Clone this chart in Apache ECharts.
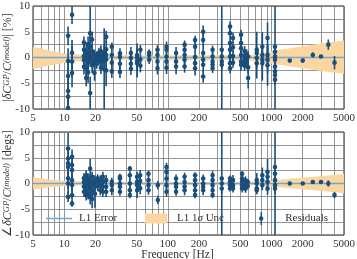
<!DOCTYPE html>
<html>
<head>
<meta charset="utf-8">
<script src="https://cdn.jsdelivr.net/npm/echarts@6/dist/echarts.min.js"></script>
<style>
  html, body { margin: 0; padding: 0; background: #fff; }
  #chart { width: 357px; height: 259px; }
</style>
</head>
<body>
<div id="chart"></div>
<script>
// axis ticks
const xTickValues = [5, 6, 7, 8, 9, 10, 20, 30, 40, 50, 60, 70, 80, 90, 100, 200, 300, 400, 500, 600, 700, 800, 900, 1000, 2000, 3000, 4000, 5000];
const xLabelValues = [5, 10, 20, 50, 100, 200, 500, 1000, 2000, 5000];

// L1 1-sigma band (frequency, lower, upper)
const bandFreq = [5, 7, 10, 15, 20, 30, 50, 100, 200, 500, 700, 1000, 2000, 3000, 5000];
const magBandUpper = [2.1, 1.4, 0.8, 0.6, 0.5, 0.45, 0.45, 0.45, 0.45, 0.5, 0.6, 1.2, 2.2, 2.7, 3.3];
const magBandLower = [-2.3, -1.6, -1.0, -0.7, -0.6, -0.5, -0.5, -0.5, -0.5, -0.55, -0.65, -1.2, -2.1, -2.6, -3.2];
const phaseBandUpper = [1.25, 0.8, 0.5, 0.4, 0.35, 0.3, 0.3, 0.3, 0.3, 0.3, 0.4, 0.6, 1.15, 1.4, 1.9];
const phaseBandLower = [-1.15, -0.8, -0.5, -0.4, -0.35, -0.3, -0.3, -0.3, -0.3, -0.3, -0.4, -0.6, -1.1, -1.4, -1.9];

// residuals: [frequency Hz, value, error]
const magResiduals = [
  [10.9, 4.2, 1.8], [10.9, -0.7, 2.5], [10.9, -3.6, 2.5], [10.9, -6.5, 2.5], [10.9, -7.6, 2], [10.9, -9.8, 1.5],
  [11.9, 8.3, 1.8], [11.9, 0.9, 2.5], [11.9, -0.8, 3], [11.9, -3.0, 2.8],
  [15.5, 2.9, 1.2], [15.5, 1.5, 1.5], [15.5, 0.3, 1.2], [15.5, -0.5, 1.4], [15.5, -1.8, 1.5],
  [16.3, 1.0, 1.6], [16.3, -0.2, 1.3], [16.3, -2.1, 1.8], [16.3, -4.0, 1.6],
  [17.0, 2.6, 1.5], [17.0, 0.8, 2], [17.0, -0.9, 1.5], [17.0, -2.9, 2],
  [17.8, 4.7, 5.5], [17.8, 2.1, 3], [17.8, 0.2, 2], [17.8, -6.9, 3.2],
  [18.6, 3.5, 1.5], [18.6, 1.2, 1], [18.6, -0.4, 1.2], [18.6, -1.5, 1.5],
  [19.6, 0.5, 1], [19.6, -1.0, 1.2], [19.6, -3.0, 1.5],
  [20.6, 0.4, 0.8], [20.6, -0.3, 1], [20.6, -1.2, 1],
  [21.6, 0.9, 1], [21.6, 0.2, 0.8], [21.6, -0.6, 1],
  [22.6, 1.2, 1.2], [22.6, 0.3, 1], [22.6, -0.8, 1], [22.6, -2.0, 1.2],
  [23.6, 0.2, 1], [23.6, -0.6, 1.2],
  [24.3, 1.0, 1.5], [24.3, -0.5, 1.5], [24.3, -2.3, 8],
  [25.4, 4.0, 1.2], [25.4, 1.6, 1.5], [25.4, 0.5, 1.2], [25.4, -0.4, 1.5], [25.4, -2.5, 3.1],
  [28.8, 2.1, 0.8], [28.8, 0.5, 1], [28.8, -1.0, 1.2], [28.8, -2.7, 1.3],
  [34.5, 0.8, 1], [34.5, 0.1, 0.9], [34.5, -1.2, 1.2], [34.5, -2.8, 1.2],
  [44, 0.85, 1.2], [44, -0.1, 1], [44, -1.2, 1], [44, -2.2, 1.2],
  [50.5, 0.5, 2.2], [50.5, -0.1, 1.5], [50.5, -0.8, 1.8], [50.5, -1.1, 2.8],
  [54.3, 1.5, 0.9], [54.3, -0.4, 1], [54.3, -1.6, 1.3],
  [66, 0.9, 0.6], [66, 0.5, 1], [66, -0.45, 0.8],
  [79.4, 1.5, 0.9], [79.4, 0.5, 1], [79.4, -0.8, 1.2], [79.4, -2.1, 1.2],
  [97, 2.1, 1], [97, 1.5, 0.8], [97, 0.2, 1], [97, -0.8, 1], [97, -2.0, 1.2],
  [120, 0.85, 1.2], [120, -0.8, 1], [120, -1.75, 1.5],
  [145, 2.5, 0.8], [145, 1.5, 1], [145, 0.5, 1], [145, -0.45, 1], [145, -1.75, 1.2],
  [183, 3.4, 0.8], [183, 2.1, 1], [183, 0.1, 1.2], [183, -1.1, 1], [183, -2.1, 1.4],
  [219, 5.0, 1.2], [219, 3.4, 1.2], [219, 0.85, 1.5], [219, -0.45, 1.2], [219, -1.4, 1.5], [219, -3.7, 1.2],
  [270, 1.5, 0.8], [270, 0.2, 1], [270, -0.8, 1], [270, -1.4, 1], [270, -2.1, 0.9],
  [331, 1.5, 30], [331, 0.2, 1], [331, -0.8, 1], [331, -1.4, 1],
  [398, 6.0, 1], [398, 4.7, 1], [398, 2.8, 1], [398, 1.5, 1], [398, 0.2, 1.2], [398, -1.1, 1], [398, -2.1, 1],
  [425, 3.8, 1], [425, 2.0, 1], [425, 0.3, 1], [425, -1.0, 1],
  [508, 4.4, 1], [508, 2.8, 1], [508, 1.8, 1], [508, 0.5, 1], [508, -0.8, 1], [508, -1.4, 1.2],
  [550, 1.2, 1], [550, 0.3, 0.8], [550, -0.2, 1], [550, -0.9, 0.9], [550, -1.6, 1],
  [575, 0.6, 1], [575, -0.4, 1], [575, -1.2, 1],
  [595, 0.2, 1], [595, -1.9, 1.2], [595, -4.0, 2],
  [720, 1.5, 3.5], [720, 0.85, 1.2], [720, -0.1, 1.5], [720, -1.1, 3],
  [815, 2.1, 2.8], [815, 0.5, 1.5], [815, -0.45, 1.5], [815, -1.1, 3.4],
  [915, 3.8, 3], [915, 0.5, 2], [915, -0.45, 2.5], [915, -1.5, 4],
  [1080, 2.1, 30], [1080, 1.1, 1], [1080, 0.2, 1], [1080, -0.45, 1], [1080, -1.75, 1], [1080, -2.7, 1], [1080, -3.4, 1], [1080, -4.3, 1],
  [1500, -0.6, 0.3], [2000, -0.6, 0.4], [2500, 0.5, 0.5], [3000, 0.2, 0.3], [3530, 2.5, 1], [4050, -1.0, 1.3]
];

const phaseResiduals = [
  [10.9, 6.8, 3], [10.9, 4.85, 1.5], [10.9, 3.9, 1.5], [10.9, 3.2, 1.5], [10.9, 1.0, 2], [10.9, 0, 2], [10.9, -2.6, 1],
  [11.9, 5.2, 1.4], [11.9, 3.6, 1.5], [11.9, 2.6, 1.5], [11.9, 0.6, 2], [11.9, -0.3, 2], [11.9, -2.3, 2], [11.9, -3.9, 0.6],
  [15.5, 1.0, 1], [15.5, 0.3, 1], [15.5, -0.6, 1.2], [15.5, -1.6, 1],
  [16.3, 1.6, 1], [16.3, 0.6, 1], [16.3, -0.3, 1], [16.3, -1.3, 1.2], [16.3, -2.3, 1],
  [17.0, 0.97, 1], [17.0, -0.32, 1.5], [17.0, -1.9, 1.2],
  [17.8, 2.9, 1.9], [17.8, 0.3, 1.5], [17.8, -0.97, 1.5], [17.8, -2.6, 1.5],
  [18.6, 1.3, 1], [18.6, 0, 1.2], [18.6, -1.3, 1.5], [18.6, -3.0, 1.8],
  [19.8, 0.6, 1], [19.8, -0.6, 1], [19.8, -2.0, 2.7],
  [21, 1.0, 0.8], [21, 0.3, 0.8], [21, -0.5, 1],
  [22.3, 0.6, 1], [22.3, -0.3, 1], [22.3, -1.3, 1],
  [23.6, 1.3, 1], [23.6, 0.3, 0.8], [23.6, -0.6, 1], [23.6, -1.6, 1],
  [25.4, 0.65, 1], [25.4, -0.65, 1], [25.4, -1.6, 1],
  [28.8, 0.32, 0.8], [28.8, -0.3, 0.8], [28.8, -1.3, 1],
  [34.5, 1.3, 0.6], [34.5, 0.97, 0.8], [34.5, 0, 1], [34.5, -0.65, 1], [34.5, -1.6, 0.8],
  [43, 2.9, 0.5], [43, 1.6, 0.8], [43, 0, 1], [43, -1.3, 1], [43, -2.25, 0.6],
  [50.5, 1.3, 1], [50.5, 0.32, 1], [50.5, -0.32, 1], [50.5, -1.3, 1.5],
  [54, 1.6, 1], [54, 0.5, 1], [54, -0.9, 1.2],
  [65, 1.9, 0.6], [65, 0.65, 1], [65, -0.32, 1], [65, -1.3, 0.9],
  [80, -0.32, 0.8], [80, -3.2, 0.8],
  [97, 3.2, 0.8], [97, 2.25, 0.8], [97, 0.97, 1], [97, -0.32, 1], [97, -1.6, 1],
  [120, 0.97, 0.8], [120, 0, 1], [120, -0.65, 1], [120, -1.6, 0.8],
  [145, 1.3, 0.8], [145, 0.3, 1], [145, -0.6, 1], [145, -1.3, 1],
  [183, 1.6, 0.6], [183, 0.65, 1], [183, -0.32, 1], [183, -1.3, 1], [183, -2.25, 0.6],
  [219, 0.97, 0.8], [219, 0, 1], [219, -0.65, 1], [219, -1.3, 1],
  [270, 1.6, 0.8], [270, 0.65, 1], [270, -0.32, 1], [270, -1.3, 1], [270, -2.25, 0.6],
  [331, 0.97, 30], [331, 0, 1], [331, -0.97, 1],
  [398, 0.97, 0.6], [398, 0.32, 0.8], [398, -0.32, 0.8], [398, -0.97, 0.6],
  [425, 0.65, 1], [425, -0.32, 1], [425, -0.97, 0.8],
  [520, 1.9, 0.5], [520, 0.97, 0.8], [520, 0.32, 0.8], [520, -0.32, 0.8], [520, -0.97, 0.8],
  [560, 0.6, 0.8], [560, -0.3, 0.8], [560, -1.0, 0.8],
  [590, 0.3, 0.6], [590, -0.5, 0.6],
  [720, 0.65, 1.4], [720, 0, 1], [720, -0.97, 1], [720, -1.3, 0.8],
  [815, 1.6, 1.5], [815, 0.65, 1], [815, -0.32, 1],
  [915, 2.25, 2.5], [915, 1.3, 1], [915, 0.32, 1], [915, -1.0, 1.2],
  [1080, 3.2, 30], [1080, 1.9, 1], [1080, 0.65, 1], [1080, -0.32, 1], [1080, -0.97, 1],
  [1500, 0, 0.3], [2000, 0, 0.3], [2500, 0.3, 0.3], [3000, 0.3, 0.3], [3530, 0, 0.6], [4050, -2.25, 0.6]
];

const lineRange = [[5, 0], [5000, 0]];

const navy = '#1a4f7c';
const bandColor = '#fcd6a0';
const l1Color = '#6fa8d0';
const serif = 'Liberation Serif';
const gridColor = '#7a7a7a';

const chart = echarts.init(document.getElementById('chart'));

function renderErr(params, api) {
  const f = api.value(0);
  const v = api.value(1);
  const e = api.value(2);
  const lo = api.coord([f, Math.max(v - e, -10)]);
  const hi = api.coord([f, Math.min(v + e, 10)]);
  const c = api.coord([f, v]);
  return {
    type: 'group',
    children: [
      { type: 'line', shape: { x1: lo[0], y1: lo[1], x2: hi[0], y2: hi[1] }, style: { stroke: navy, lineWidth: 1.6 } },
      { type: 'circle', shape: { cx: c[0], cy: c[1], r: 2.3 }, style: { fill: navy } }
    ]
  };
}

function makeBand(lower, upper) {
  return function (params, api) {
    if (params.dataIndex !== 0) return null;
    const pts = [];
    bandFreq.forEach((f, i) => pts.push(api.coord([f, upper[i]])));
    for (let i = bandFreq.length - 1; i >= 0; i--) pts.push(api.coord([bandFreq[i], lower[i]]));
    return { type: 'polygon', shape: { points: pts }, style: { fill: bandColor } };
  };
}

function xAxis(gridIndex, named) {
  const ax = {
    type: 'log', logBase: 10, gridIndex: gridIndex, min: 5, max: 5000,
    axisLine: { show: false },
    axisTick: { show: false, customValues: xTickValues },
    axisLabel: {
      customValues: xLabelValues, margin: 4, color: '#333', fontFamily: serif, fontSize: 11,
      formatter: v => String(Math.round(v))
    },
    splitLine: { show: true, lineStyle: { color: gridColor, width: 0.8 } }
  };
  if (named) {
    ax.name = 'Frequency [Hz]';
    ax.nameLocation = 'middle';
    ax.nameGap = 14;
    ax.nameMoveOverlap = false;
    ax.nameTextStyle = { fontFamily: serif, fontSize: 11.5, color: '#333', padding: [0, 22, 0, 0], verticalAlign: 'top' };
  }
  return ax;
}

function yAxis(gridIndex, name) {
  return {
    type: 'value', gridIndex: gridIndex, min: -10, max: 10, interval: 2.5,
    axisLine: { show: false },
    axisTick: { show: false },
    axisLabel: {
      margin: 3, color: '#333', fontFamily: serif, fontSize: 11,
      formatter: v => (v % 5 === 0 ? String(v) : '')
    },
    splitLine: { show: true, lineStyle: { color: gridColor, width: 0.8 } },
    name: name,
    nameLocation: 'middle',
    nameGap: 19,
    nameMoveOverlap: false,
    nameTextStyle: {
      fontFamily: serif, fontSize: 12, color: '#333',
      rich: {
        i: { fontFamily: serif, fontSize: 12, fontStyle: 'italic', color: '#333' },
        s: { fontFamily: serif, fontSize: 8.5, fontStyle: 'italic', color: '#333', verticalAlign: 'top' },
        n: { fontFamily: serif, fontSize: 12, color: '#333' }
      }
    }
  };
}

const legendText = {
  fontFamily: serif, fontSize: 11, color: '#333',
  rich: { g: { fontFamily: serif, fontSize: 11, fontStyle: 'italic', color: '#333' } }
};

const option = {
  animation: false,
  grid: [
    { left: 33, right: 13, top: 6, height: 103, show: true, borderColor: '#222', borderWidth: 1, outerBoundsMode: 'none', containLabel: false },
    { left: 33, right: 13, top: 132, height: 103, show: true, borderColor: '#222', borderWidth: 1, outerBoundsMode: 'none', containLabel: false }
  ],
  xAxis: [xAxis(0, false), xAxis(1, true)],
  yAxis: [
    yAxis(0, '{n||}{i|δC}{s|GP}{n|/}{i|C}{s|(model)}{n|| [%]}'),
    yAxis(1, '{n|∠}{i|δC}{s|GP}{n|/}{i|C}{s|(model)}{n| [degs]}')
  ],
  legend: [
    {
      data: [{ name: 'L1 Error', icon: 'rect' }],
      left: 46, top: 213, padding: 0, itemWidth: 26, itemHeight: 1.5,
      itemStyle: { color: l1Color },
      textStyle: Object.assign({ padding: [0, 0, 0, 2] }, legendText)
    },
    {
      data: [{ name: 'L1 1σ Unc', icon: 'rect' }], left: 145, top: 213, padding: 0, itemWidth: 22, itemHeight: 10,
      formatter: () => 'L1 1{g|σ} Unc',
      textStyle: Object.assign({ padding: [0, 0, 0, 5] }, legendText)
    },
    {
      data: [{ name: 'Residuals', icon: 'path://M4.3,0H5.7V13H4.3Z M5,4.3A2.2,2.2,0,1,1,4.99,4.3Z' }],
      left: 259, top: 212, padding: 0, itemWidth: 10, itemHeight: 13,
      textStyle: Object.assign({ padding: [0, 0, 0, 14] }, legendText)
    }
  ],
  series: [
    {
      name: 'L1 1σ Unc', type: 'custom', xAxisIndex: 0, yAxisIndex: 0, z: 1,
      itemStyle: { color: bandColor },
      renderItem: makeBand(magBandLower, magBandUpper),
      data: bandFreq.map((f, i) => [f, magBandLower[i], magBandUpper[i]]),
      encode: { x: 0, y: [1, 2] }, silent: true
    },
    {
      name: 'L1 1σ Unc', type: 'custom', xAxisIndex: 1, yAxisIndex: 1, z: 1,
      itemStyle: { color: bandColor },
      renderItem: makeBand(phaseBandLower, phaseBandUpper),
      data: bandFreq.map((f, i) => [f, phaseBandLower[i], phaseBandUpper[i]]),
      encode: { x: 0, y: [1, 2] }, silent: true
    },
    {
      name: 'L1 Error', type: 'line', xAxisIndex: 0, yAxisIndex: 0, z: 2,
      data: lineRange, symbol: 'none', lineStyle: { color: l1Color, width: 1.3 }, itemStyle: { color: l1Color }
    },
    {
      name: 'L1 Error', type: 'line', xAxisIndex: 1, yAxisIndex: 1, z: 2,
      data: lineRange, symbol: 'none', lineStyle: { color: l1Color, width: 1.3 }, itemStyle: { color: l1Color }
    },
    {
      name: 'Residuals', type: 'custom', xAxisIndex: 0, yAxisIndex: 0, z: 3,
      itemStyle: { color: navy }, renderItem: renderErr, data: magResiduals,
      encode: { x: 0, y: 1 }
    },
    {
      name: 'Residuals', type: 'custom', xAxisIndex: 1, yAxisIndex: 1, z: 3,
      itemStyle: { color: navy }, renderItem: renderErr, data: phaseResiduals,
      encode: { x: 0, y: 1 }
    }
  ]
};

chart.setOption(option);
</script>
</body>
</html>
